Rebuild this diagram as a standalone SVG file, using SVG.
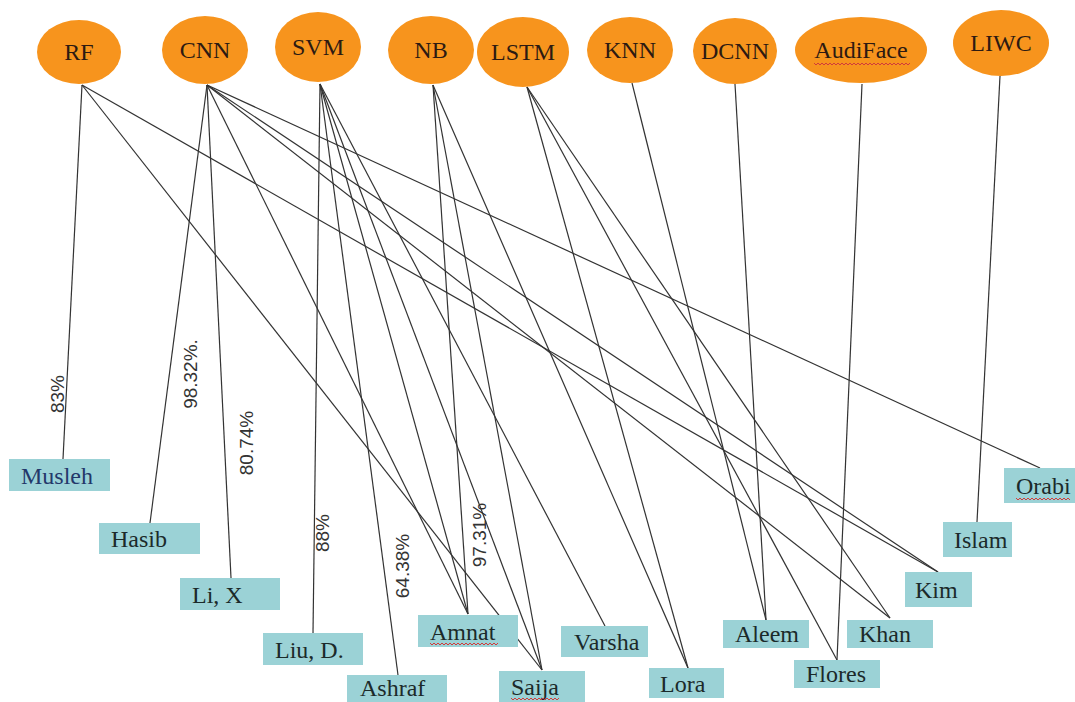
<svg xmlns="http://www.w3.org/2000/svg" width="1075" height="702" viewBox="0 0 1075 702">
<style>
.alg{fill:#F7941D}
.algt{font-family:"Liberation Serif","Times New Roman",serif;font-size:24px;fill:#2d1a12;text-anchor:middle}
.box{fill:#9BD2D6}
.boxt{font-family:"Liberation Serif","Times New Roman",serif;font-size:24px;fill:#1b2a2a}
.edge{stroke:#333;stroke-width:1.2;fill:none}
.lbl{font-family:"Liberation Sans",Arial,sans-serif;font-size:19px;fill:#333;text-anchor:middle;dominant-baseline:central}
.sq{stroke:#d23a3a;stroke-width:1;fill:none}
</style>
<rect width="1075" height="702" fill="#ffffff"/>
<g id="connectors">
<line class="edge" x1="82" y1="85" x2="63" y2="459"/>
<line class="edge" x1="82" y1="85" x2="542" y2="670"/>
<line class="edge" x1="82" y1="85" x2="938" y2="572"/>
<line class="edge" x1="207" y1="85" x2="150" y2="523"/>
<line class="edge" x1="207" y1="85" x2="231" y2="578"/>
<line class="edge" x1="207" y1="85" x2="468" y2="614"/>
<line class="edge" x1="207" y1="85" x2="1040" y2="468"/>
<line class="edge" x1="207" y1="85" x2="938" y2="572"/>
<line class="edge" x1="207" y1="85" x2="890" y2="618"/>
<line class="edge" x1="320" y1="84" x2="313" y2="633"/>
<line class="edge" x1="320" y1="84" x2="398" y2="675"/>
<line class="edge" x1="320" y1="84" x2="468" y2="614"/>
<line class="edge" x1="320" y1="84" x2="542" y2="670"/>
<line class="edge" x1="320" y1="84" x2="605" y2="626"/>
<line class="edge" x1="433" y1="85" x2="468" y2="614"/>
<line class="edge" x1="433" y1="85" x2="542" y2="670"/>
<line class="edge" x1="433" y1="85" x2="688" y2="668"/>
<line class="edge" x1="527" y1="87" x2="688" y2="668"/>
<line class="edge" x1="527" y1="87" x2="837" y2="660"/>
<line class="edge" x1="527" y1="87" x2="890" y2="618"/>
<line class="edge" x1="632" y1="83" x2="766" y2="620"/>
<line class="edge" x1="735" y1="84" x2="766" y2="620"/>
<line class="edge" x1="862" y1="84" x2="837" y2="660"/>
<line class="edge" x1="1000" y1="76" x2="977" y2="522"/>
<text class="lbl" transform="translate(57,394) rotate(-90)">83%</text>
<text class="lbl" transform="translate(190,374) rotate(-90)">98.32%.</text>
<text class="lbl" transform="translate(246,443) rotate(-90)">80.74%</text>
<text class="lbl" transform="translate(322,533) rotate(-90)">88%</text>
<text class="lbl" transform="translate(402,566) rotate(-90)">64.38%</text>
<text class="lbl" transform="translate(479,535) rotate(-90)">97.31%</text>
</g>
<g id="RF"><ellipse class="alg" cx="79" cy="52" rx="42" ry="32"/><text class="algt" x="79" y="60">RF</text></g>
<g id="CNN"><ellipse class="alg" cx="205" cy="50" rx="43" ry="34"/><text class="algt" x="205" y="58">CNN</text></g>
<g id="SVM"><ellipse class="alg" cx="318" cy="47" rx="43" ry="35"/><text class="algt" x="318" y="55">SVM</text></g>
<g id="NB"><ellipse class="alg" cx="431" cy="50" rx="43" ry="34"/><text class="algt" x="431" y="58">NB</text></g>
<g id="LSTM"><ellipse class="alg" cx="523" cy="52" rx="46" ry="35"/><text class="algt" x="523" y="60">LSTM</text></g>
<g id="KNN"><ellipse class="alg" cx="630" cy="50" rx="43" ry="33"/><text class="algt" x="630" y="58">KNN</text></g>
<g id="DCNN"><ellipse class="alg" cx="735" cy="51" rx="42" ry="33"/><text class="algt" x="735" y="59">DCNN</text></g>
<g id="AudiFace"><ellipse class="alg" cx="861" cy="50" rx="66" ry="33"/><text class="algt" x="861" y="58">AudiFace</text><path class="sq" d="M814 63 l2 2 l2 -2 l2 2 l2 -2 l2 2 l2 -2 l2 2 l2 -2 l2 2 l2 -2 l2 2 l2 -2 l2 2 l2 -2 l2 2 l2 -2 l2 2 l2 -2 l2 2 l2 -2 l2 2 l2 -2 l2 2 l2 -2 l2 2 l2 -2 l2 2 l2 -2 l2 2 l2 -2 l2 2 l2 -2 l2 2 l2 -2 l2 2 l2 -2 l2 2 l2 -2 l2 2 l2 -2 l2 2 l2 -2 l2 2 l2 -2 l2 2 l2 -2 l2 2 l2 -2"/></g>
<g id="LIWC"><ellipse class="alg" cx="1001" cy="43" rx="48" ry="33"/><text class="algt" x="1001" y="51">LIWC</text></g>
<g id="Musleh"><rect class="box" x="9" y="459" width="101" height="32"/><text class="boxt" x="21" y="484" style="fill:#23386a">Musleh</text></g>
<g id="Hasib"><rect class="box" x="99" y="523" width="101" height="31"/><text class="boxt" x="111" y="547">Hasib</text></g>
<g id="LiX"><rect class="box" x="180" y="578" width="100" height="32"/><text class="boxt" x="192" y="603">Li, X</text></g>
<g id="LiuD"><rect class="box" x="263" y="633" width="100" height="32"/><text class="boxt" x="275" y="658">Liu, D.</text></g>
<g id="Ashraf"><rect class="box" x="347" y="675" width="100" height="32"/><text class="boxt" x="360" y="696">Ashraf</text></g>
<g id="Amnat"><rect class="box" x="418" y="615" width="100" height="32"/><text class="boxt" x="430" y="640">Amnat</text><path class="sq" d="M430 643 l2 2 l2 -2 l2 2 l2 -2 l2 2 l2 -2 l2 2 l2 -2 l2 2 l2 -2 l2 2 l2 -2 l2 2 l2 -2 l2 2 l2 -2 l2 2 l2 -2 l2 2 l2 -2 l2 2 l2 -2 l2 2 l2 -2 l2 2 l2 -2 l2 2 l2 -2 l2 2 l2 -2 l2 2 l2 -2 l2 2 l2 -2"/></g>
<g id="Saija"><rect class="box" x="499" y="671" width="86" height="33"/><text class="boxt" x="511" y="695">Saija</text><path class="sq" d="M511 698 l2 2 l2 -2 l2 2 l2 -2 l2 2 l2 -2 l2 2 l2 -2 l2 2 l2 -2 l2 2 l2 -2 l2 2 l2 -2 l2 2 l2 -2 l2 2 l2 -2 l2 2 l2 -2 l2 2 l2 -2 l2 2 l2 -2"/></g>
<g id="Varsha"><rect class="box" x="561" y="626" width="87" height="31"/><text class="boxt" x="574" y="650">Varsha</text></g>
<g id="Lora"><rect class="box" x="649" y="668" width="75" height="30"/><text class="boxt" x="660" y="692">Lora</text></g>
<g id="Aleem"><rect class="box" x="723" y="620" width="86" height="28"/><text class="boxt" x="735" y="642">Aleem</text></g>
<g id="Flores"><rect class="box" x="794" y="660" width="86" height="28"/><text class="boxt" x="806" y="682">Flores</text></g>
<g id="Khan"><rect class="box" x="847" y="620" width="86" height="28"/><text class="boxt" x="859" y="642">Khan</text></g>
<g id="Kim"><rect class="box" x="905" y="572" width="67" height="35"/><text class="boxt" x="915" y="598">Kim</text></g>
<g id="Islam"><rect class="box" x="943" y="522" width="69" height="35"/><text class="boxt" x="954" y="548">Islam</text></g>
<g id="Orabi"><rect class="box" x="1004" y="468" width="71" height="35"/><text class="boxt" x="1016" y="494">Orabi</text><path class="sq" d="M1016 498 l2 2 l2 -2 l2 2 l2 -2 l2 2 l2 -2 l2 2 l2 -2 l2 2 l2 -2 l2 2 l2 -2 l2 2 l2 -2 l2 2 l2 -2 l2 2 l2 -2 l2 2 l2 -2 l2 2 l2 -2 l2 2 l2 -2 l2 2 l2 -2 l2 2"/></g>
</svg>
